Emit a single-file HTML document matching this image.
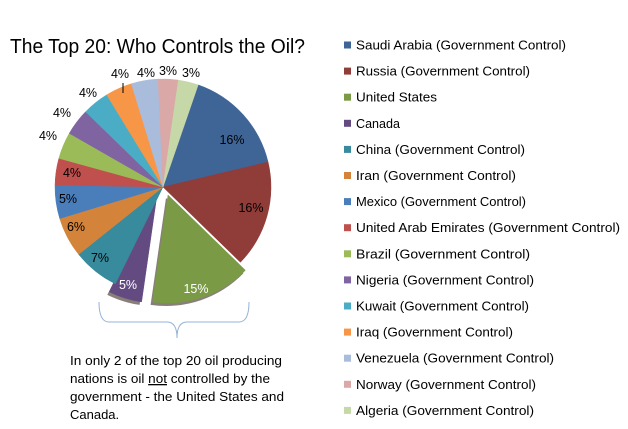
<!DOCTYPE html>
<html><head><meta charset="utf-8"><style>
html,body{margin:0;padding:0;background:#fff;}
svg{display:block;font-family:"Liberation Sans",sans-serif;}
</style></head><body>
<svg id="s" width="628" height="429" viewBox="0 0 628 429" xmlns="http://www.w3.org/2000/svg">
<text x="10" y="53" font-size="20" textLength="295" lengthAdjust="spacingAndGlyphs">The Top 20: Who Controls the Oil?</text>
<g id="pie"></g>
<g id="leg" font-size="13"></g>
<path d="M99,302 Q99,322 109,322 L167,322 Q177,322 177,338 Q177,322 187,322 L239,322 Q249,322 249,302" fill="none" stroke="#95b3d7" stroke-width="1"/>
<g font-size="13">
<text x="70" y="365" textLength="212" lengthAdjust="spacingAndGlyphs">In only 2 of the top 20 oil producing</text>
<text x="70" y="383" textLength="200" lengthAdjust="spacingAndGlyphs">nations is oil <tspan text-decoration="underline">not</tspan> controlled by the</text>
<text x="70" y="401" textLength="214" lengthAdjust="spacingAndGlyphs">government - the United States and</text>
<text x="70" y="419">Canada.</text>
</g>
</svg>
<script>
var d=[["Saudi Arabia (Government Control)",16,"#3f6597",566,"16%",0,0],
["Russia (Government Control)",16,"#903c39",530,"16%",0,0],
["United States",15,"#7a9a45",437,"15%",0,0],
["Canada",5,"#634b82",400,"5%",0,0],
["China (Government Control)",7,"#378b9d",525,"7%",0,0],
["Iran (Government Control)",6,"#d4843a",516,"6%",0,0],
["Mexico (Government Control)",5,"#4a7ebb",526,"5%",0,0],
["United Arab Emirates (Government Control)",4,"#c0504d",620,"4%",0,0],
["Brazil (Government Control)",4,"#9bbb59",530,"4%",0,0],
["Nigeria (Government Control)",4,"#8064a2",534,"4%",0,0],
["Kuwait (Government Control)",4,"#4bacc6",529,"4%",0,0],
["Iraq (Government Control)",4,"#f79646",513,"4%",0,0],
["Venezuela (Government Control)",4,"#a9bcdc",554,"4%",0,0],
["Norway (Government Control)",3,"#d9a8a7",536,"3%",0,0],
["Algeria (Government Control)",3,"#c6d7a8",534,"3%",0,0]];
var tot=0;d.forEach(function(r){tot+=r[1]});
var cx=163,cy=187,R=108,a=19,ns="http://www.w3.org/2000/svg";
var pie=document.getElementById("pie"),leg=document.getElementById("leg");
var labels=[[232,144,"#000"],[251,212,"#000"],[196,293,"#fff"],[128,289,"#fff"],[100,262,"#000"],[76,231,"#000"],[68,203,"#000"],[72,177,"#000"],[48,140,"#000"],[62,117,"#000"],[88,97,"#000"],[120,78,"#000"],[146,77,"#000"],[168,75,"#000"],[191,77,"#000"]];
function pt(ang,r,ox,oy){var t=(ang-90)*Math.PI/180;return [cx+ox+r*Math.cos(t),cy+oy+r*Math.sin(t)];}
d.forEach(function(r,i){
 var sw=r[1]/tot*360,a0=a,a1=a+sw,ox=0,oy=0;a=a1;
 if(i==2){ox=5;oy=8;} if(i==3){ox=-6;oy=8;}
 var p0=pt(a0,R,ox,oy),p1=pt(a1,R,ox,oy);
 var path=document.createElementNS(ns,"path");
 path.setAttribute("d","M"+(cx+ox)+","+(cy+oy)+" L"+p0[0]+","+p0[1]+" A"+R+","+R+" 0 "+(sw>180?1:0)+",1 "+p1[0]+","+p1[1]+" Z");
 path.setAttribute("fill",r[2]);path.setAttribute("stroke",r[2]);path.setAttribute("stroke-width","0.5");
 if(i==2||i==3){var sh=path.cloneNode();sh.setAttribute("transform","translate(-2,3)");sh.setAttribute("fill","#3a2a20");sh.setAttribute("stroke","none");sh.setAttribute("opacity","0.6");pie.appendChild(sh);}
 pie.appendChild(path);
 var L=labels[i],t=document.createElementNS(ns,"text");
 t.setAttribute("x",L[0]);t.setAttribute("y",L[1]);t.setAttribute("font-size","12.5");t.setAttribute("text-anchor","middle");t.setAttribute("fill",L[2]);t.textContent=r[4];pie.appendChild(t);
 var y=45+i*26.1,q=document.createElementNS(ns,"rect");
 q.setAttribute("x",344);q.setAttribute("y",y-3.5);q.setAttribute("width",7);q.setAttribute("height",7);q.setAttribute("fill",r[2]);leg.appendChild(q);
 var lt=document.createElementNS(ns,"text");lt.setAttribute("x",356);lt.setAttribute("y",y+4.5);
 lt.setAttribute("textLength",r[3]-356);lt.setAttribute("lengthAdjust","spacingAndGlyphs");lt.textContent=r[0];leg.appendChild(lt);
});
var ln=document.createElementNS(ns,"path");ln.setAttribute("d","M123,83 L123,93");ln.setAttribute("stroke","#000");pie.appendChild(ln);
</script>
</body></html>
